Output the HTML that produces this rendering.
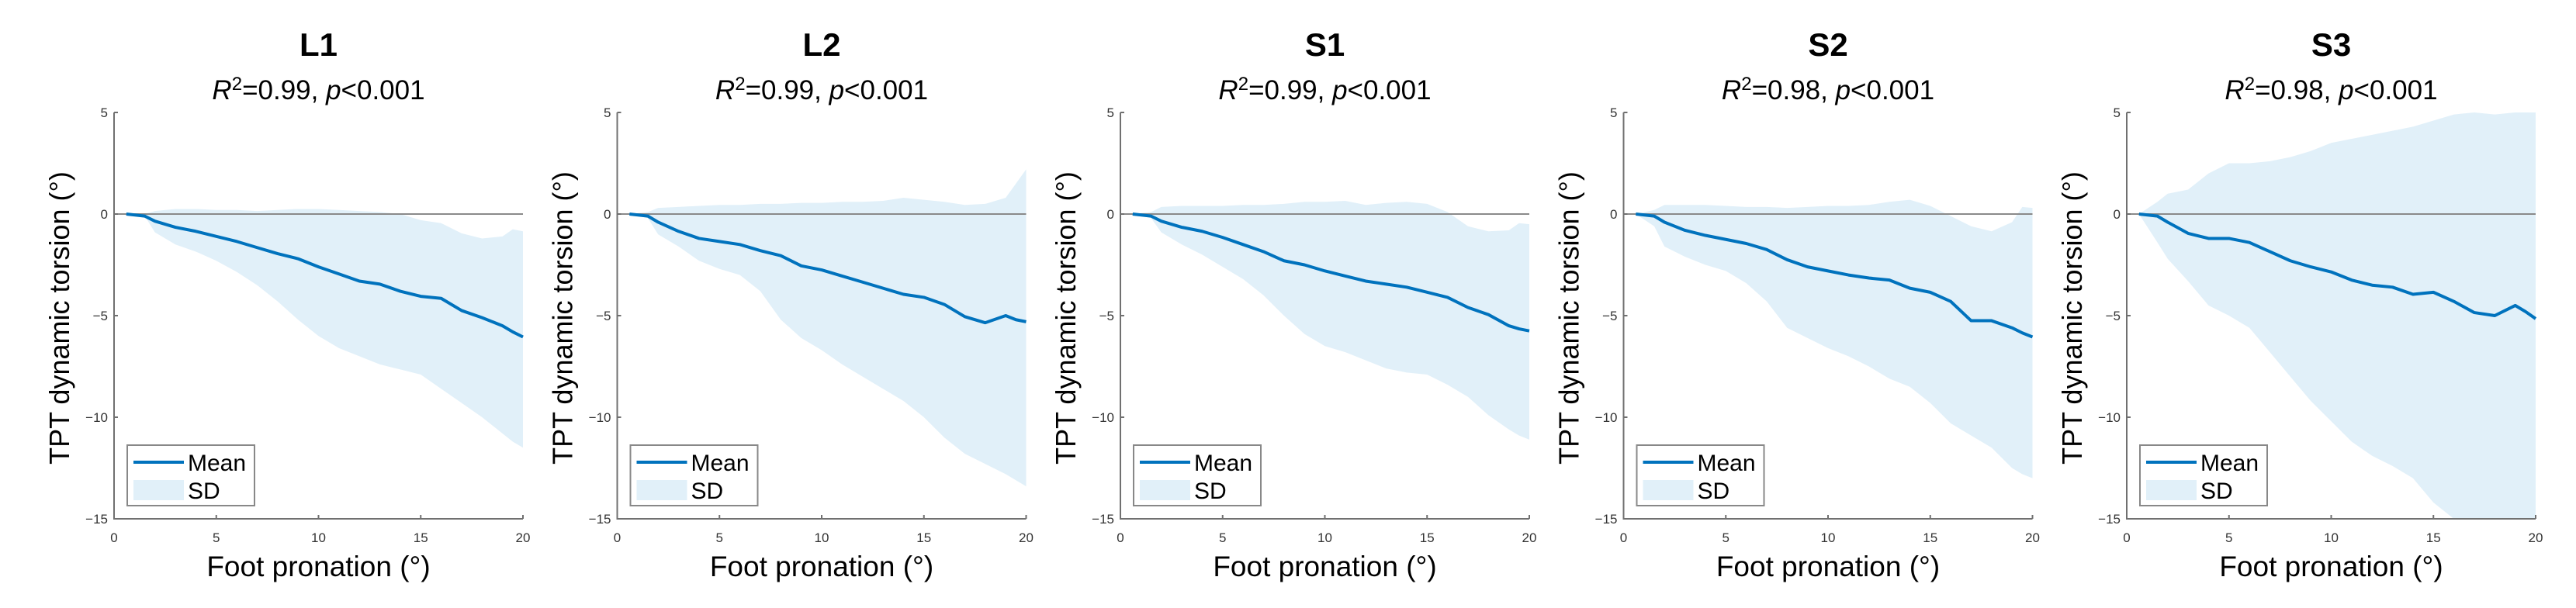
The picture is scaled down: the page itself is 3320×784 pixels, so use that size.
<!DOCTYPE html>
<html><head><meta charset="utf-8"><style>
html,body{margin:0;padding:0;background:#fff;}
svg{display:block;font-family:"Liberation Sans",Arial,sans-serif;}
</style></head><body>
<svg id="fig" width="3320" height="784" viewBox="0 0 3320 784" xmlns="http://www.w3.org/2000/svg"></svg>
<script>
const xs = [0.6,1.5,2,3,4,5,6,7,8,9,10,11,12,13,14,15,16,17,18,19,19.5,20];
const panelNames = ["L1","L2","S1","S2","S3"];
const r2Values = ["0.99","0.99","0.99","0.98","0.98"];
const xTicks = [0,5,10,15,20];
const yTicks = [5,0,-5,-10,-15];
const yTickLabels = ["5","0","\u22125","\u221210","\u221215"];
const meanL1 = [0,-0.1,-0.35,-0.65,-0.85,-1.1,-1.35,-1.65,-1.95,-2.2,-2.6,-2.95,-3.3,-3.45,-3.8,-4.05,-4.15,-4.75,-5.1,-5.5,-5.8,-6.05];
const upL1 = [0,0,0.15,0.25,0.25,0.2,0.2,0.15,0.2,0.25,0.25,0.2,0.15,0.1,0,-0.3,-0.45,-0.95,-1.2,-1.1,-0.75,-0.85];
const loL1 = [0,-0.1,-0.9,-1.5,-1.85,-2.3,-2.85,-3.5,-4.3,-5.2,-6.0,-6.6,-7.0,-7.4,-7.65,-7.9,-8.6,-9.3,-10.0,-10.8,-11.2,-11.5];
const meanL2 = [0,-0.1,-0.4,-0.85,-1.2,-1.35,-1.5,-1.8,-2.05,-2.55,-2.75,-3.05,-3.35,-3.65,-3.95,-4.1,-4.45,-5.05,-5.35,-5.0,-5.2,-5.3];
const upL2 = [0,0.1,0.3,0.35,0.4,0.45,0.45,0.5,0.5,0.55,0.55,0.6,0.6,0.65,0.8,0.7,0.6,0.45,0.5,0.8,1.5,2.2];
const loL2 = [0,-0.2,-1.0,-1.6,-2.3,-2.7,-3.0,-3.8,-5.2,-6.1,-6.7,-7.4,-8.0,-8.6,-9.2,-10.0,-11.0,-11.8,-12.3,-12.8,-13.1,-13.4];
const meanS1 = [0,-0.1,-0.35,-0.65,-0.85,-1.15,-1.5,-1.85,-2.3,-2.5,-2.8,-3.05,-3.3,-3.45,-3.6,-3.85,-4.1,-4.6,-4.95,-5.5,-5.65,-5.75];
const upS1 = [0,0.1,0.35,0.4,0.4,0.4,0.45,0.45,0.5,0.6,0.6,0.65,0.45,0.55,0.6,0.5,0.1,-0.6,-0.85,-0.8,-0.45,-0.5];
const loS1 = [0,-0.2,-0.9,-1.5,-2.0,-2.6,-3.2,-4.0,-5.0,-5.9,-6.5,-6.8,-7.2,-7.6,-7.8,-7.9,-8.4,-9.0,-9.9,-10.6,-10.9,-11.1];
const meanS2 = [0,-0.1,-0.4,-0.8,-1.05,-1.25,-1.45,-1.75,-2.25,-2.6,-2.8,-3.0,-3.15,-3.25,-3.65,-3.85,-4.3,-5.25,-5.25,-5.6,-5.85,-6.05];
const upS2 = [0,0.2,0.45,0.45,0.45,0.4,0.35,0.35,0.3,0.35,0.4,0.4,0.45,0.6,0.7,0.4,-0.1,-0.6,-0.85,-0.4,0.35,0.3];
const loS2 = [0,-0.6,-1.6,-2.1,-2.5,-2.8,-3.4,-4.3,-5.6,-6.1,-6.6,-7.0,-7.5,-8.1,-8.5,-9.3,-10.3,-10.9,-11.5,-12.5,-12.8,-13.0];
const meanS3 = [0,-0.1,-0.4,-0.95,-1.2,-1.2,-1.4,-1.85,-2.3,-2.6,-2.85,-3.25,-3.5,-3.6,-3.95,-3.85,-4.3,-4.85,-5.0,-4.5,-4.8,-5.15];
const upS3 = [0,0.6,1.0,1.2,2.0,2.5,2.5,2.6,2.8,3.1,3.5,3.7,3.9,4.1,4.3,4.6,4.9,5.0,4.9,5.0,5.0,5.0];
const loS3 = [0,-1.4,-2.2,-3.3,-4.5,-5.0,-5.6,-6.8,-8.0,-9.2,-10.2,-11.2,-11.9,-12.4,-13.0,-14.2,-15.0,-16,-16,-16,-16,-16];
const means = [meanL1,meanL2,meanS1,meanS2,meanS3];
const uppers = [upL1,upL2,upS1,upS2,upS3];
const lowers = [loL1,loL2,loS1,loS2,loS3];

const NS = "http://www.w3.org/2000/svg";
const svg = document.getElementById("fig");
function mk(tag, attrs, parent, text){
  const e = document.createElementNS(NS, tag);
  for (const k in attrs) e.setAttribute(k, attrs[k]);
  if (text !== undefined) e.textContent = text;
  (parent||svg).appendChild(e);
  return e;
}
const plotW = 527, plotTop = 145, plotBot = 669;
for (let p = 0; p < 5; p++) {
  const x0 = 147 + p * 648.5;
  const sx = v => x0 + (v / 20) * plotW;
  const sy = v => plotTop + (5 - v) / 20 * (plotBot - plotTop);
  const g = mk("g", {});
  
  
  const clip = mk("clipPath", {id: "clip" + p}, g);
  mk("rect", {x: x0, y: plotTop, width: plotW, height: plotBot - plotTop}, clip);
  let d = "M" + xs.map((x, i) => sx(x) + "," + sy(uppers[p][i])).join(" L");
  for (let i = xs.length - 1; i >= 0; i--) d += " L" + sx(xs[i]) + "," + sy(lowers[p][i]);
  d += " Z";
  const band = mk("path", {d: d, fill: "#e1f0f9", stroke: "none", "clip-path": "url(#clip" + p + ")"}, g);
  
  
  const zl = mk("line", {x1: x0, x2: x0 + plotW, y1: sy(0), y2: sy(0), stroke: "#8a8a8a", "stroke-width": 2}, g);
  
  
  const ml = mk("polyline", {points: xs.map((x, i) => sx(x) + "," + sy(means[p][i])).join(" "), fill: "none", stroke: "#0072bd", "stroke-width": 4, "stroke-linejoin": "round"}, g);
  
  
  const ax = mk("path", {d: "M" + x0 + "," + plotTop + " L" + x0 + "," + plotBot + " L" + (x0 + plotW) + "," + plotBot, fill: "none", stroke: "#707070", "stroke-width": 2}, g);
  
  
  yTicks.forEach((t, i) => {
    mk("line", {x1: x0, x2: x0 + 5, y1: sy(t), y2: sy(t), stroke: "#707070", "stroke-width": 2}, g);
    const tl = mk("text", {x: x0 - 8, y: sy(t) + 6, "text-anchor": "end", "font-size": 17, fill: "#333"}, g, yTickLabels[i]);
    
    
  });
  xTicks.forEach(t => {
    mk("line", {x1: sx(t), x2: sx(t), y1: plotBot, y2: plotBot - 5, stroke: "#707070", "stroke-width": 2}, g);
    const tl = mk("text", {x: sx(t), y: 699, "text-anchor": "middle", "font-size": 17, fill: "#333"}, g, String(t));
    
    
  });
  const cx = x0 + plotW / 2;
  const ti = mk("text", {x: cx, y: 72, "text-anchor": "middle", "font-size": 42, "font-weight": "bold", fill: "#000"}, g, panelNames[p]);
  
  
  const st = mk("text", {x: cx, y: 128, "text-anchor": "middle", "font-size": 35, fill: "#000"}, g);
  
  
  mk("tspan", {"font-style": "italic"}, st, "R");
  mk("tspan", {"font-size": 24, dy: -12}, st, "2");
  mk("tspan", {dy: 12}, st, "=" + r2Values[p] + ", ");
  mk("tspan", {"font-style": "italic"}, st, "p");
  mk("tspan", {}, st, "<0.001");
  const xl = mk("text", {x: cx, y: 743, "text-anchor": "middle", "font-size": 37, fill: "#000"}, g, "Foot pronation (\u00b0)");
  
  
  const yl = mk("text", {x: x0 - 58, y: 410, "text-anchor": "middle", "font-size": 36, fill: "#000", transform: "rotate(-90 " + (x0 - 58) + " 410)"}, g, "TPT dynamic torsion (\u00b0)");
  
  
  const lg = mk("g", {}, g);
  
  
  const lx = x0 + 17;
  mk("rect", {x: lx, y: 574, width: 164, height: 78, fill: "#fff", stroke: "#888", "stroke-width": 2}, lg);
  mk("line", {x1: lx + 8, x2: lx + 73, y1: 596, y2: 596, stroke: "#0072bd", "stroke-width": 4}, lg);
  mk("rect", {x: lx + 8, y: 619, width: 65, height: 26, fill: "#e1f0f9"}, lg);
  const m1 = mk("text", {x: lx + 78, y: 607, "font-size": 30, fill: "#000"}, lg, "Mean");
  
  
  const m2 = mk("text", {x: lx + 78, y: 643, "font-size": 30, fill: "#000"}, lg, "SD");
  
  
}
</script>
</body></html>
